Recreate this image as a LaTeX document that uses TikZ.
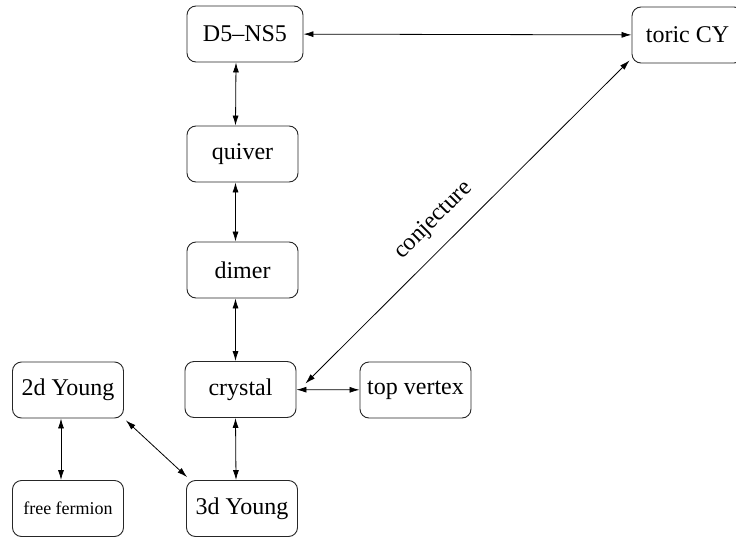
\documentclass[tikz,border=0pt]{standalone}
\usepackage{fontspec}
\setmainfont{Liberation Serif}
\usetikzlibrary{arrows.meta}
\tikzset{
  box/.style={draw=black!85,line width=0.9pt,rounded corners=9pt,
    minimum width=111pt,minimum height=56pt,inner sep=0pt,
    font=\fontsize{24}{28}\selectfont},
  link/.style={{Latex[length=10pt,width=6pt]}-{Latex[length=10pt,width=6pt]},
    line width=0.8pt}}
\begin{document}
\begin{tikzpicture}[x=1pt,y=-1pt]
  \useasboundingbox (0,0) rectangle (736,538);
  % the boxes
  \node[box,minimum width=116pt] (dns) at (245,34) {D5--NS5};
  \node[box] (toric) at (687.5,35) {toric CY};
  \node[box] (quiver) at (242.5,154) {quiver};
  \node[box] (dimer) at (242.5,270) {dimer};
  \node[box] (crystal) at (240.5,389.5) {crystal};
  \node[box] (topv) at (415.5,390) {top vertex};
  \node[box] (young2) at (68,390) {2d Young};
  \node[box] (young3) at (242,508.5) {3d Young};
  \node[box,font=\fontsize{18}{22}\selectfont] (fermion) at (68,508.5) {free fermion};
  % the arrows
  \draw[link] (dns) -- (toric);
  \draw[link] ([xshift=-9pt]dns.south) -- ([xshift=-7pt]quiver.north);
  \draw[link] ([xshift=-7pt]quiver.south) -- ([xshift=-7pt]dimer.north);
  \draw[link] ([xshift=-7pt]dimer.south) -- ([xshift=-5pt]crystal.north);
  \draw[link] ([xshift=-5pt]crystal.south) -- ([xshift=-6pt]young3.north);
  \draw[link] (crystal) -- (topv);
  \draw[link] ([xshift=-7pt]young2.south) -- ([xshift=-7pt]fermion.north);
  \draw[link] ([xshift=2pt,yshift=-2pt]young2.south east)
    -- ([xshift=1pt,yshift=3pt]young3.north west);
  \draw[link] ([xshift=9pt,yshift=6pt]crystal.east)
    -- ([xshift=-2pt,yshift=3pt]toric.south west)
    node[sloped,pos=0.45,above=14pt,inner sep=0pt,
      font=\fontsize{24}{28}\selectfont] (conj) {conjecture};
\end{tikzpicture}
\end{document}
